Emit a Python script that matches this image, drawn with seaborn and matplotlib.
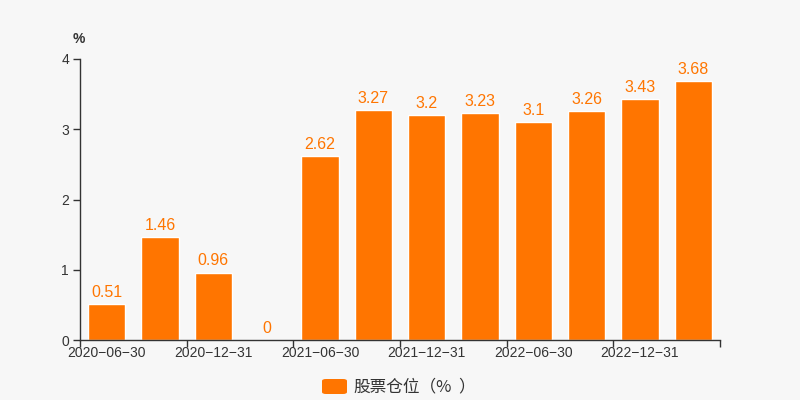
import matplotlib
matplotlib.use("Agg")
import matplotlib.pyplot as plt
import seaborn as sns
import pandas as pd
from matplotlib.patches import FancyBboxPatch
from matplotlib.ticker import FixedLocator

categories = ["2020-06-30", "2020-09-30", "2020-12-31", "2021-03-31",
              "2021-06-30", "2021-09-30", "2021-12-31", "2022-03-31",
              "2022-06-30", "2022-09-30", "2022-12-31", "2023-03-31"]
values = [0.51, 1.46, 0.96, 0, 2.62, 3.27, 3.2, 3.23, 3.1, 3.26, 3.43, 3.68]
series_name = "股票仓位（%）"
y_ticks = [0, 1, 2, 3, 4]

sns.set_theme(style="white")
plt.rcParams['font.family'] = ['Liberation Sans', 'Noto Sans CJK SC', 'DejaVu Sans']

bg = "#f7f7f7"
bar_color = "#ff7500"
text_color = "#333333"
num_font = ['Liberation Sans', 'DejaVu Sans']
cjk_font = ['Noto Sans CJK SC', 'DejaVu Sans']

fig = plt.figure(figsize=(8, 4), dpi=100, facecolor=bg)
ax = fig.add_axes([0.1, 0.15, 0.8, 0.7025])
ax.set_facecolor(bg)

df = pd.DataFrame({"date": categories, "value": values})
sns.barplot(data=df, x="date", y="value", color=bar_color, width=0.7,
            saturation=1, ax=ax, order=categories)

for i, v in enumerate(values):
    ax.text(i, v + 0.06, f"{v:g}", ha="center", va="bottom",
            color=bar_color, fontsize=11.5, family=num_font)

ax.set_xlim(-0.5, len(categories) - 0.5)
ax.set_ylim(0, 4)
ax.set_yticks(y_ticks)
ax.set_yticklabels([str(t) for t in y_ticks], color=text_color, fontsize=10, family=num_font)

major = list(range(0, len(categories), 2))
ax.xaxis.set_major_locator(FixedLocator(major))
ax.set_xticklabels([categories[i].replace("-", "\u2212") for i in major],
                   color=text_color, fontsize=10, family=num_font)
ax.xaxis.set_minor_locator(FixedLocator([i - 0.5 for i in range(0, len(categories) + 1, 2)]))
ax.tick_params(axis="x", which="major", length=0, pad=4)
ax.tick_params(axis="x", which="minor", length=5, width=1, color=text_color, bottom=True)
ax.tick_params(axis="y", which="major", length=5, width=1, color=text_color, left=True, pad=3)

for s in ["top", "right"]:
    ax.spines[s].set_visible(False)
for s in ["left", "bottom"]:
    ax.spines[s].set_color(text_color)
    ax.spines[s].set_linewidth(1)

ax.set_xlabel("")
ax.set_ylabel("")
fig.text(0.099, 0.903, "%", ha="center", va="center", color=text_color,
         fontsize=10, family=num_font, fontweight="bold")

# legend: swatch + label (closing bracket spaced as in the reference)
lx, ly = 322 / 800, (400 - 386.5) / 400
fig.patches.append(FancyBboxPatch((lx, ly - 7.5 / 400), 25 / 800, 15 / 400,
                                  boxstyle="round,pad=0,rounding_size=0.005",
                                  transform=fig.transFigure, facecolor=bar_color,
                                  edgecolor="none"))
fig.text(353 / 800, ly, series_name[:-1], ha="left", va="center", color=text_color,
         fontsize=12, family=cjk_font)
fig.text(458 / 800, ly, series_name[-1], ha="left", va="center", color=text_color,
         fontsize=12, family=cjk_font)

fig.savefig("out.png", dpi=100, facecolor=bg)
